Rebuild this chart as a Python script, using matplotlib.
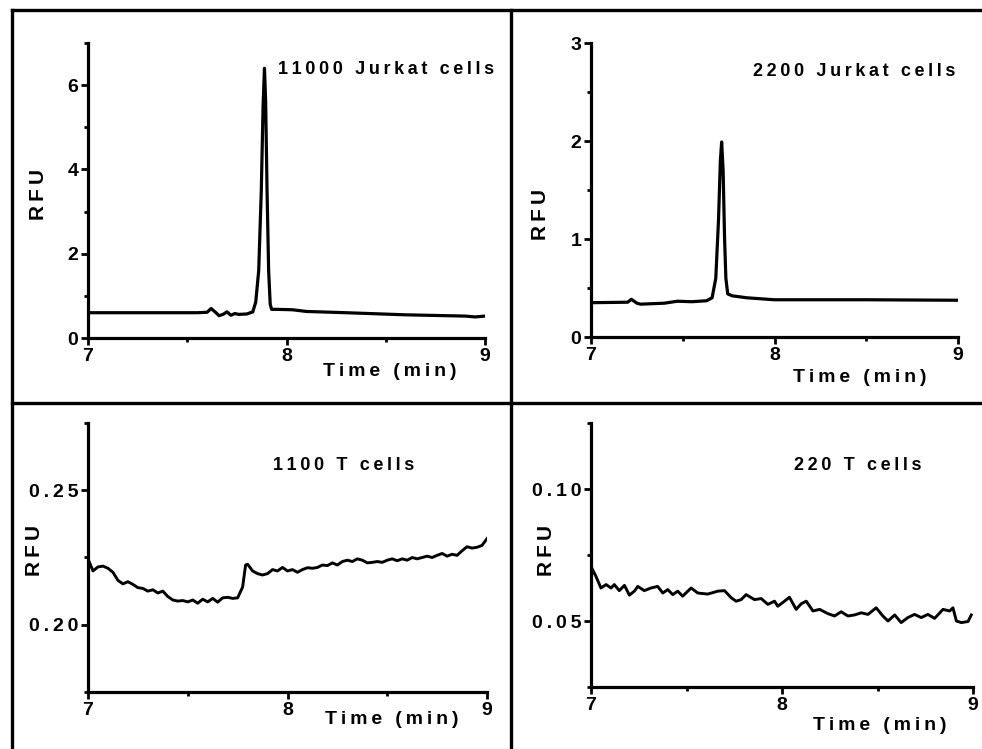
import matplotlib
matplotlib.use("Agg")
import matplotlib.pyplot as plt
from matplotlib.lines import Line2D
from matplotlib.ticker import MultipleLocator, FuncFormatter

plt.rcParams['font.family'] = ['Liberation Sans', 'DejaVu Sans']
plt.rcParams['font.weight'] = 'bold'

W, H = 982, 749

# 11000 Jurkat cells
t_jurkat_11000 = [7.00, 7.30, 7.55, 7.60, 7.62, 7.64, 7.66, 7.68, 7.70, 7.72, 7.74, 7.76, 7.80,
                  7.83, 7.845, 7.86, 7.873, 7.882, 7.889, 7.895, 7.902, 7.91, 7.918, 7.925,
                  7.95, 8.03, 8.10, 8.30, 8.60, 8.90, 8.95, 9.00]
rfu_jurkat_11000 = [0.60, 0.60, 0.60, 0.61, 0.70, 0.62, 0.53, 0.56, 0.62, 0.54, 0.58, 0.56, 0.57,
                    0.62, 0.85, 1.6, 3.5, 5.5, 6.4, 5.6, 3.5, 1.6, 0.8, 0.68,
                    0.68, 0.67, 0.63, 0.60, 0.55, 0.52, 0.50, 0.52]

# 2200 Jurkat cells
t_jurkat_2200 = [7.00, 7.20, 7.22, 7.25, 7.27, 7.40, 7.47, 7.55, 7.63, 7.66, 7.68, 7.695,
                 7.705, 7.712, 7.72, 7.728, 7.735, 7.745, 7.77, 7.85, 8.00, 8.50, 9.00]
rfu_jurkat_2200 = [0.35, 0.355, 0.385, 0.345, 0.335, 0.345, 0.365, 0.36, 0.37, 0.40, 0.60, 1.2,
                   1.8, 1.99, 1.7, 1.0, 0.6, 0.44, 0.42, 0.40, 0.38, 0.38, 0.375]

# 1100 T cells
t_t1100 = [7.000, 7.025, 7.050, 7.075, 7.100, 7.125, 7.150, 7.175, 7.200, 7.225, 7.250,
           7.275, 7.300, 7.325, 7.350, 7.375, 7.400, 7.425, 7.450, 7.475, 7.500, 7.525,
           7.550, 7.575, 7.600, 7.625, 7.650, 7.675, 7.700, 7.725, 7.750, 7.775, 7.790,
           7.800, 7.825, 7.850, 7.875, 7.900, 7.925, 7.950, 7.975, 8.000, 8.025, 8.050,
           8.075, 8.100, 8.125, 8.150, 8.175, 8.200, 8.225, 8.250, 8.275, 8.300, 8.325,
           8.350, 8.375, 8.400, 8.425, 8.450, 8.475, 8.500, 8.525, 8.550, 8.575, 8.600,
           8.625, 8.650, 8.675, 8.700, 8.725, 8.750, 8.775, 8.800, 8.825, 8.850, 8.875,
           8.900, 8.925, 8.950, 8.975, 9.000]
rfu_t1100 = [0.2245, 0.2200, 0.2215, 0.2218, 0.2210, 0.2195, 0.2165, 0.2152, 0.2160, 0.2150, 0.2138,
             0.2135, 0.2125, 0.2130, 0.2118, 0.2125, 0.2105, 0.2092, 0.2088, 0.2090, 0.2085, 0.2092,
             0.2080, 0.2095, 0.2085, 0.2098, 0.2084, 0.2100, 0.2102, 0.2098, 0.2100, 0.2140, 0.2222,
             0.2225, 0.2200, 0.2190, 0.2185, 0.2190, 0.2205, 0.2200, 0.2213, 0.2200, 0.2205, 0.2195,
             0.2205, 0.2212, 0.2210, 0.2213, 0.2222, 0.2220, 0.2230, 0.2222, 0.2235, 0.2240, 0.2235,
             0.2245, 0.2240, 0.2230, 0.2232, 0.2235, 0.2232, 0.2240, 0.2245, 0.2238, 0.2245, 0.2240,
             0.2250, 0.2245, 0.2250, 0.2255, 0.2250, 0.2258, 0.2265, 0.2255, 0.2262, 0.2258, 0.2275,
             0.2290, 0.2285, 0.2288, 0.2295, 0.2320]

# 220 T cells
t_t220 = [7.000, 7.026, 7.052, 7.079, 7.105, 7.122, 7.148, 7.175, 7.201, 7.227, 7.245, 7.279,
          7.314, 7.349, 7.376, 7.402, 7.428, 7.454, 7.480, 7.524, 7.559, 7.611, 7.664, 7.699,
          7.734, 7.760, 7.786, 7.812, 7.856, 7.891, 7.926, 7.961, 7.978, 8.013, 8.039, 8.074,
          8.100, 8.127, 8.162, 8.197, 8.240, 8.275, 8.310, 8.345, 8.380, 8.415, 8.450, 8.493,
          8.528, 8.555, 8.590, 8.624, 8.659, 8.694, 8.729, 8.764, 8.799, 8.843, 8.878, 8.895,
          8.913, 8.939, 8.974, 8.991]
rfu_t220 = [0.0706, 0.0669, 0.0625, 0.0638, 0.0625, 0.0638, 0.0615, 0.0635, 0.0598, 0.0613, 0.0631, 0.0615,
            0.0625, 0.0631, 0.0606, 0.0619, 0.0600, 0.0613, 0.0594, 0.0625, 0.0606, 0.0602, 0.0613, 0.0615,
            0.0588, 0.0575, 0.0581, 0.0600, 0.0581, 0.0585, 0.0563, 0.0575, 0.0556, 0.0575, 0.0590, 0.0544,
            0.0565, 0.0575, 0.0538, 0.0544, 0.0528, 0.0519, 0.0535, 0.0519, 0.0523, 0.0531, 0.0525, 0.0550,
            0.0519, 0.0500, 0.0523, 0.0494, 0.0513, 0.0525, 0.0513, 0.0525, 0.0510, 0.0544, 0.0538, 0.0550,
            0.0500, 0.0494, 0.0498, 0.0523]


def spaced(s, gap='\u2009'):
    # the original lettering is tracked out, so put a thin space between characters
    return gap.join(s)


def frac(x, y):
    return x / W, 1 - y / H


def make_axes(fig, x0, x1, ytop, ybot):
    left, bottom = frac(x0, ybot)
    return fig.add_axes([left, bottom, (x1 - x0) / W, (ybot - ytop) / H])


def style(ax, ylim, ymajor, yminor, yfmt):
    ax.set_xlim(7, 9)
    ax.set_ylim(*ylim)
    for s in ['top', 'right']:
        ax.spines[s].set_visible(False)
    for s in ['left', 'bottom']:
        ax.spines[s].set_linewidth(2.3)
    ax.xaxis.set_major_locator(MultipleLocator(1))
    ax.xaxis.set_minor_locator(MultipleLocator(0.5))
    ax.yaxis.set_major_locator(MultipleLocator(ymajor))
    ax.yaxis.set_minor_locator(MultipleLocator(yminor))
    ax.xaxis.set_major_formatter(FuncFormatter(lambda v, p: '%d' % round(v)))
    ax.yaxis.set_major_formatter(FuncFormatter(lambda v, p: spaced(yfmt % v)))
    ax.tick_params(which='major', length=5, width=2, labelsize=14, pad=2)
    ax.tick_params(which='minor', length=3, width=2)
    for lab in ax.get_xticklabels() + ax.get_yticklabels():
        lab.set_fontweight('bold')


fig = plt.figure(figsize=(W / 100, H / 100), dpi=100)

# panel frame lines
lw_frame = 2.4
for xs, ys in [([12, 982], [10, 10]), ([12, 12], [10, 749]),
               ([511, 511], [10, 749]), ([12, 982], [403, 403])]:
    fx = [x / W for x in xs]
    fy = [1 - y / H for y in ys]
    fig.add_artist(Line2D(fx, fy, color='black', lw=lw_frame, transform=fig.transFigure))

ax1 = make_axes(fig, 88, 485, 43, 338)
ax1.plot(t_jurkat_11000, rfu_jurkat_11000, color='black', lw=2.3)
style(ax1, (0, 7), 2, 1, '%d')

ax2 = make_axes(fig, 591, 958, 43, 337)
ax2.plot(t_jurkat_2200, rfu_jurkat_2200, color='black', lw=2.3)
style(ax2, (0, 3), 1, 0.5, '%d')

ax3 = make_axes(fig, 88, 487, 423, 692)
ax3.plot(t_t1100, rfu_t1100, color='black', lw=2.1)
style(ax3, (0.175, 0.275), 0.05, 0.025, '%.2f')

ax4 = make_axes(fig, 591, 973, 423, 687)
ax4.plot(t_t220, rfu_t220, color='black', lw=2.1)
style(ax4, (0.025, 0.125), 0.05, 0.025, '%.2f')

labels = [("11000 Jurkat cells", 278, 70), ("2200 Jurkat cells", 753, 72),
          ("1100 T cells", 273, 466), ("220 T cells", 794, 465)]
for txt, x, y in labels:
    fx, fy = frac(x, y)
    fig.text(fx, fy, spaced(txt), fontsize=13, fontweight='bold', ha='left', va='center')

for x, y in [(390, 372), (860, 378), (392, 720), (880, 725)]:
    fx, fy = frac(x, y)
    fig.text(fx, fy, spaced("Time (min)"), fontsize=14, fontweight='bold',
             ha='center', va='center')

for x, y in [(38, 195), (541, 215), (35, 550), (546, 550)]:
    fx, fy = frac(x, y)
    fig.text(fx, fy, spaced("RFU"), fontsize=15, fontweight='bold', rotation=90,
             ha='center', va='center')

fig.savefig("out.png", dpi=100)
